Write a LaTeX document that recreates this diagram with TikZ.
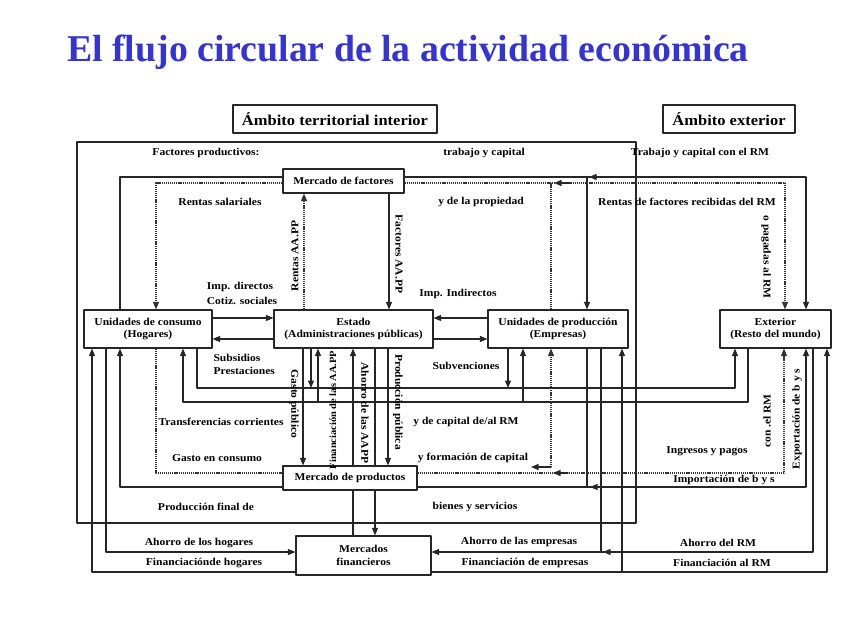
\documentclass[tikz,border=0pt]{standalone}
\usepackage{fontspec}
\setmainfont{Liberation Serif}[FakeStretch=1.1]
\newfontfamily\titlefont{Liberation Serif}
\usepackage{tikz}
\usetikzlibrary{calc,positioning,arrows.meta}
\definecolor{titleblue}{RGB}{51,51,214}

\begin{document}
\begin{tikzpicture}[line cap=round,line join=round,x=1pt,y=-1pt,
  line width=1.1pt,color=black!85,
  box/.style={draw=black!85,line width=1.1pt,fill=white,text=black,align=center,inner sep=0pt,font=\bfseries\fontsize{10.5}{12.5}\selectfont},
  lbl/.style={inner sep=0pt,text=black,font=\bfseries\fontsize{10.5}{12}\selectfont},
  dotline/.style={line cap=butt,line width=1.1pt,dash pattern=on 1.2pt off 0.9pt,color=black!80},
  flow/.style={-{Triangle[length=7.5pt,width=6pt]}}]
\useasboundingbox (0,0) rectangle (848,636);

% title and scope boxes
\node[font=\titlefont\bfseries\fontsize{37.8}{42}\selectfont,text=titleblue,anchor=base] (titulo) at (408,62) {El flujo circular de la actividad económica};
\node[box,minimum width=204,minimum height=28,font=\bfseries\fontsize{15}{17}\selectfont] (ambint) at (335,119) {Ámbito territorial interior};
\node[box,minimum width=132,minimum height=28,font=\bfseries\fontsize{15}{17}\selectfont] (ambext) at (729,119) {Ámbito exterior};
\draw (77,142) rectangle (636,523);

% agents and markets
\node[box,minimum width=121,minimum height=24] (factores) at (343.5,181) {Mercado de factores};
\node[box,minimum width=128,minimum height=38] (hogares) at (148,329) {Unidades de consumo\\(Hogares)};
\node[box,minimum width=159,minimum height=38] (estado) at (353.5,329) {Estado\\(Administraciones públicas)};
\node[box,minimum width=140,minimum height=38] (empresas) at (558,329) {Unidades de producción\\(Empresas)};
\node[box,minimum width=111,minimum height=38] (exterior) at (775.5,329) {Exterior\\(Resto del mundo)};
\node[box,minimum width=134,minimum height=24] (productos) at (350,478) {Mercado de productos};
\node[box,minimum width=135,minimum height=39] (financieros) at (363.5,555.5) {Mercados\\financieros};

% factor market flows
\draw (hogares.north -| 120,0) -- (120,177) -- (factores.west |- 0,177);
\draw[dotline,flow] (factores.west |- 0,183) -- (156,183) -- (hogares.north -| 156,0);
\draw[flow] (factores.east |- 0,177) -- (806,177) -- (exterior.north -| 806,0);
\draw[flow] (587,177) -- (empresas.north -| 587,0);
\draw[flow] (604,177) -- (589,177);
\draw[dotline,flow] (factores.east |- 0,183) -- (785,183) -- (exterior.north -| 785,0);
\draw[dotline] (empresas.north -| 551,0) -- (551,183);
\draw[flow] (569,183) -- (554,183);
\draw[dotline,flow] (estado.north -| 304,0) -- (factores.south -| 304,0);
\draw[flow] (factores.south -| 389,0) -- (estado.north -| 389,0);

% taxes and transfers with the state
\draw[flow] (hogares.east |- 0,318) -- (estado.west |- 0,318);
\draw[flow] (estado.west |- 0,339) -- (hogares.east |- 0,339);
\draw[flow] (empresas.west |- 0,318) -- (estado.east |- 0,318);
\draw[flow] (estado.east |- 0,339) -- (empresas.west |- 0,339);

% state and the product and financial markets
\draw[flow] (estado.south -| 303,0) -- (productos.north -| 303,0);
\draw[flow] (estado.south -| 311,0) -- (311,388);
\draw[flow] (318,402) -- (estado.south -| 318,0);
\draw[flow] (productos.north -| 353,0) -- (estado.south -| 353,0);
\draw (financieros.north -| 353,0) -- (productos.south -| 353,0);
\draw (estado.south -| 375,0) -- (productos.north -| 375,0);
\draw[flow] (productos.south -| 375,0) -- (financieros.north -| 375,0);
\draw[flow] (estado.south -| 388,0) -- (productos.north -| 388,0);

% current and capital transfers
\draw[flow] (hogares.south -| 197,0) -- (197,388) -- (735,388) -- (exterior.south -| 735,0);
\draw[flow] (exterior.south -| 748,0) -- (748,402) -- (183,402) -- (hogares.south -| 183,0);
\draw[flow] (empresas.south -| 508,0) -- (508,388);
\draw[flow] (523,402) -- (empresas.south -| 523,0);

% consumption, investment, goods
\draw[dotline] (hogares.south -| 156,0) -- (156,473) -- (productos.west |- 0,473);
\draw[dotline,flow] (productos.east |- 0,473) -- (784,473) -- (exterior.south -| 784,0);
\draw[flow] (568,473) -- (553,473);
\draw[dotline,flow] (551,467) -- (empresas.south -| 551,0);
\draw[flow] (551,467) -- (531,467);
\draw[flow] (productos.west |- 0,487) -- (120,487) -- (hogares.south -| 120,0);
\draw[flow] (productos.east |- 0,487) -- (806,487) -- (exterior.south -| 806,0);
\draw[flow] (605,487) -- (590,487);
\draw (empresas.south -| 587,0) -- (587,487);

% saving and financing
\draw (empresas.south -| 601,0) -- (601,552);
\draw[flow] (622,572) -- (empresas.south -| 622,0);
\draw[flow] (hogares.south -| 106,0) -- (106,552) -- (financieros.west |- 0,552);
\draw[flow] (financieros.west |- 0,572) -- (92,572) -- (hogares.south -| 92,0);
\draw[flow] (exterior.south -| 813,0) -- (813,552) -- (financieros.east |- 0,552);
\draw[flow] (618,552) -- (603,552);
\draw[flow] (financieros.east |- 0,572) -- (827,572) -- (exterior.south -| 827,0);

% labels
\node[lbl] (factprod) at (206,153) {Factores productivos:};
\node[lbl] (trabcap) at (484,153) {trabajo y capital};
\node[lbl] (trabrm) at (700,153) {Trabajo y capital con el RM};
\node[lbl] (rentsal) at (220,202) {Rentas salariales};
\node[lbl] (rentprop) at (481,202) {y de la propiedad};
\node[lbl] (rentrm) at (687,202) {Rentas de factores recibidas del RM};
\node[lbl,rotate=-90] (pagrm) at (766,257) {o pagadas al RM};
\node[lbl,rotate=90] (rentaapp) at (295,256) {Rentas AA.PP};
\node[lbl,rotate=-90] (factaapp) at (399,254) {Factores AA.PP};
\node[lbl] (impdir) at (240,287) {Imp. directos};
\node[lbl] (cotiz) at (242,301) {Cotiz. sociales};
\node[lbl] (impind) at (458,294) {Imp. Indirectos};
\node[lbl,anchor=west] (subsid) at (213,358) {Subsidios};
\node[lbl,anchor=west] (prest) at (213,371) {Prestaciones};
\node[lbl] (subv) at (466,366) {Subvenciones};
\node[lbl,rotate=-90] (gastpub) at (294,404) {Gasto público};
\node[lbl,rotate=90,font=\bfseries\fontsize{9.5}{11}\selectfont] (finaapp) at (333,410) {Financiación de las AA.PP};
\node[lbl,rotate=-90] (ahoaapp) at (365,413) {Ahorro de las AAPP};
\node[lbl,rotate=-90] (prodpub) at (398,402) {Producción pública};
\node[lbl] (transf) at (221,422) {Transferencias corrientes};
\node[lbl] (transfrm) at (466,422) {y de capital de/al RM};
\node[lbl] (gastcons) at (217,458) {Gasto en consumo};
\node[lbl] (formcap) at (473,458) {y formación de capital};
\node[lbl] (ingpag) at (707,451) {Ingresos y pagos};
\node[lbl,rotate=90] (conrm) at (767,421) {con .el RM};
\node[lbl,rotate=90] (export) at (797,419) {Exportación de b y s};
\node[lbl] (import) at (724,480) {Importación de b y s};
\node[lbl] (prodfin) at (206,507) {Producción final de};
\node[lbl] (bienes) at (475,507) {bienes y servicios};
\node[lbl] (ahohog) at (199,543) {Ahorro de los hogares};
\node[lbl] (finhog) at (204,563) {Financiaciónde hogares};
\node[lbl] (ahoemp) at (519,542) {Ahorro de las empresas};
\node[lbl] (finemp) at (525,563) {Financiación de empresas};
\node[lbl] (ahorm) at (718,543) {Ahorro del RM};
\node[lbl] (finrm) at (722,563) {Financiación al RM};

\end{tikzpicture}
\end{document}
